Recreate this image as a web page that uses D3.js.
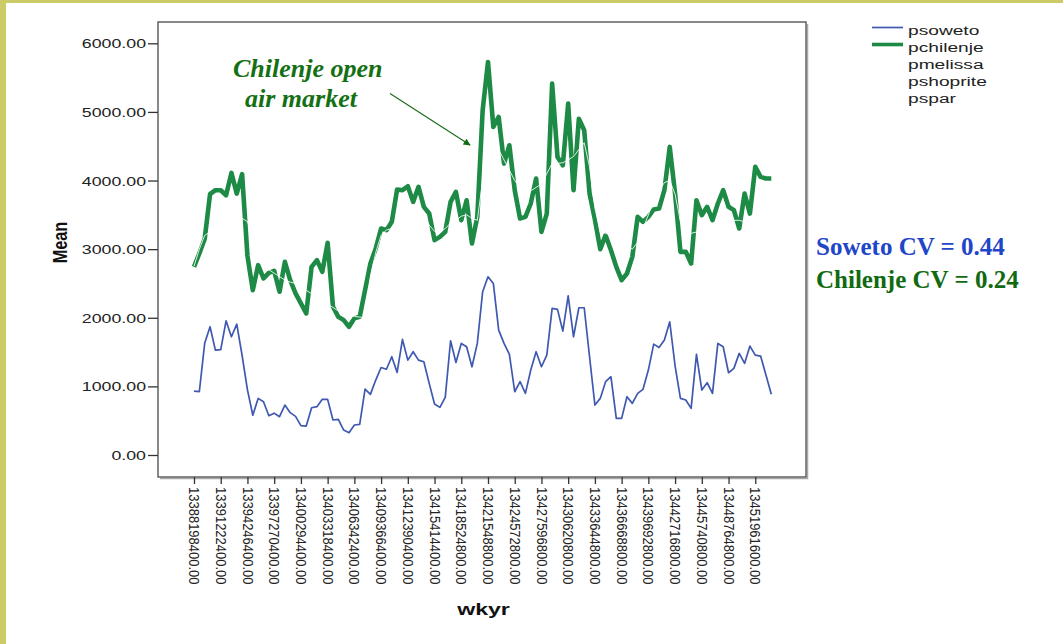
<!DOCTYPE html>
<html>
<head>
<meta charset="utf-8">
<script src="https://cdn.jsdelivr.net/npm/d3@7"></script>
<style>
  body { margin: 0; background: #fff; }
  svg { display: block; }
</style>
</head>
<body>
<div id="chart"></div>
<script>
// weekly means, one value per wkyr category
var psoweto = [930, 925, 1627, 1869, 1529, 1535, 1956, 1723, 1908, 1450,
  950, 580, 825, 777, 573, 610, 558, 728, 617, 563,
  427, 422, 689, 704, 811, 811, 510, 519, 364, 325,
  437, 447, 961, 884, 1092, 1275, 1250, 1432, 1204, 1684,
  1383, 1505, 1383, 1359, 1044, 743, 694, 840, 1665, 1349,
  1626, 1578, 1286, 1626, 2379, 2597, 2500, 1820, 1626, 1466,
  922, 1068, 898, 1238, 1505, 1286, 1456, 2136, 2122, 1806,
  2320, 1723, 2146, 2146, 1432, 728, 825, 1068, 1141, 534,
  534, 850, 752, 898, 957, 1238, 1616, 1568, 1675, 1942,
  1300, 825, 801, 679, 1466, 947, 1053, 898, 1626, 1578,
  1199, 1262, 1481, 1335, 1587, 1456, 1442, 1165, 884];

var pchilenje = [2742, 2937, 3150, 3801, 3859, 3859, 3786, 4111, 3810, 4092,
  2900, 2403, 2767, 2573, 2655, 2684, 2379, 2815, 2548, 2355,
  2209, 2063, 2742, 2840, 2670, 3092, 2160, 2014, 1966, 1869,
  1991, 2014, 2403, 2791, 3010, 3301, 3277, 3398, 3870, 3859,
  3917, 3689, 3908, 3617, 3519, 3131, 3179, 3252, 3689, 3835,
  3422, 3713, 3082, 3470, 5024, 5727, 4781, 4927, 4247, 4514,
  3859, 3447, 3470, 3665, 4029, 3252, 3519, 5412, 4344, 4223,
  5121, 3859, 4900, 4733, 3810, 3430, 3000, 3204, 2985, 2742,
  2548, 2645, 2888, 3470, 3398, 3470, 3578, 3592, 3859, 4490,
  3810, 2961, 2961, 2791, 3713, 3495, 3617, 3422, 3665, 3859,
  3617, 3568, 3301, 3810, 3519, 4199, 4053, 4029, 4029];

// drawn in white in the original, only seen where it crosses pchilenje
var pmelissa = [2750, 3000, 3200, 3250, 3230, 3250, 3300, 3350, 3400, 3450,
  3400, 3200, 3000, 2850, 2700, 2650, 2600, 2550, 2520, 2500,
  2450, 2400, 2350, 2300, 2250, 2200, 2150, 2100, 2050, 2030,
  2020, 2010, 2000, 2600, 2950, 3200, 3280, 3300, 3350, 3420,
  3500, 3580, 3550, 3500, 3350, 3260, 3250, 3300, 3380, 3420,
  3480, 3500, 3450, 3420, 4000, 4300, 4480, 4450, 4300, 4150,
  4000, 3900, 3850, 3850, 3900, 3950, 4100, 4250, 4250, 4260,
  4300, 4350, 4450, 4550, 4200, 3600, 3250, 3230, 3200, 3150,
  3100, 3050, 3000, 3100, 3300, 3500, 3700, 3850, 3970, 4000,
  3800, 3400, 3250, 3230, 3250, 3300, 3330, 3350, 3380, 3400,
  3400, 3420, 3420, 3400, 3380, 3400, 3450, 3500, 3500];

// every 5th wkyr category is labelled
var tickLabels = ["13388198400.00", "13391222400.00", "13394246400.00", "13397270400.00",
  "13400294400.00", "13403318400.00", "13406342400.00", "13409366400.00",
  "13412390400.00", "13415414400.00", "13418524800.00", "13421548800.00",
  "13424572800.00", "13427596800.00", "13430620800.00", "13433644800.00",
  "13436668800.00", "13439692800.00", "13442716800.00", "13445740800.00",
  "13448764800.00", "13451961600.00"];

var yTicks = [0, 1000, 2000, 3000, 4000, 5000, 6000];
var legendNames = ["psoweto", "pchilenje", "pmelissa", "pshoprite", "pspar"];

var svgWidth = 1063, svgHeight = 644;
var box = { left: 158, right: 806, top: 22, bottom: 477 };
var sx = 1.42; // the SPSS chart is stretched sideways

var svg = d3.select("#chart").append("svg")
  .attr("width", svgWidth)
  .attr("height", svgHeight)
  .style("font-family", "'Liberation Sans', Arial, sans-serif");

svg.append("rect").attr("width", svgWidth).attr("height", svgHeight).attr("fill", "#fff");
// slide border
svg.append("rect").attr("x", 0).attr("y", 0).attr("width", 6).attr("height", svgHeight).attr("fill", "#cbcb68");
svg.append("rect").attr("x", 0).attr("y", 0).attr("width", svgWidth).attr("height", 3).attr("fill", "#cbcb68");

var n = psoweto.length;
var x = d3.scaleLinear().domain([0, n - 1]).range([194, 771.3]);
var y = d3.scaleLinear().domain([0, 6000]).range([455, 43.3]);

// frame with a little shadow
svg.append("path")
  .attr("d", `M${box.right + 1.5},${box.top + 2} V${box.bottom + 1.5} H${box.left + 2}`)
  .attr("fill", "none").attr("stroke", "#a8a8a8").attr("stroke-width", 1.5);
svg.append("rect")
  .attr("x", box.left).attr("y", box.top)
  .attr("width", box.right - box.left).attr("height", box.bottom - box.top)
  .attr("fill", "none").attr("stroke", "#4a4a4a").attr("stroke-width", 1.3);

// Y axis
var yAxis = svg.append("g")
  .attr("transform", `translate(${box.left},0)`)
  .call(d3.axisLeft(y).tickValues(yTicks).tickFormat(d3.format(".2f")).tickSize(10));
yAxis.select(".domain").remove();
yAxis.selectAll(".tick line").attr("stroke", "#333").attr("stroke-width", 1.3);
yAxis.selectAll(".tick text")
  .attr("x", 0).attr("dy", "0.36em")
  .attr("transform", `translate(-12,0) scale(${sx},1)`)
  .style("font-size", "12.5px")
  .attr("fill", "#222");

// X axis
var tickIdx = tickLabels.map((d, i) => i * 5);
var xAxis = svg.append("g")
  .attr("transform", `translate(0,${box.bottom})`)
  .call(d3.axisBottom(x).tickValues(tickIdx).tickFormat((d, i) => tickLabels[i]).tickSize(7));
xAxis.select(".domain").remove();
xAxis.selectAll(".tick line").attr("stroke", "#333").attr("stroke-width", 1.3);
xAxis.selectAll(".tick text")
  .attr("x", 0).attr("y", 0).attr("dy", "0.36em")
  .attr("text-anchor", "start")
  .attr("transform", "translate(0,10) rotate(90) scale(1,1.15)")
  .style("font-size", "13px")
  .attr("fill", "#222");

// axis titles
svg.append("text")
  .attr("transform", `translate(67,242.5) rotate(-90) scale(1,1.25)`)
  .attr("text-anchor", "middle")
  .style("font-size", "16.3px").style("font-weight", "bold")
  .attr("fill", "#111")
  .text("Mean");

svg.append("text")
  .attr("transform", `translate(483.5,615) scale(${sx},1)`)
  .attr("text-anchor", "middle")
  .style("font-size", "16.3px").style("font-weight", "bold")
  .attr("fill", "#111")
  .text("wkyr");

// lines
var line = d3.line().x((d, i) => x(i)).y(d => y(d));

svg.append("path")
  .datum(psoweto)
  .attr("fill", "none")
  .attr("stroke", "#3f58b0")
  .attr("stroke-width", 1.7)
  .attr("stroke-linejoin", "round")
  .attr("d", line);

svg.append("path")
  .datum(pchilenje)
  .attr("fill", "none")
  .attr("stroke", "#1d8a45")
  .attr("stroke-width", 4.6)
  .attr("stroke-linejoin", "round")
  .attr("d", line);

svg.append("path")
  .datum(pmelissa)
  .attr("fill", "none")
  .attr("stroke", "#ffffff")
  .attr("stroke-width", 1)
  .attr("opacity", 0.85)
  .attr("d", line);

// legend
var legendColors = ["#3f58b0", "#1d8a45", null, null, null];
var legendWidths = [1.7, 3.6, 0, 0, 0];
var legend = svg.append("g");
legendNames.forEach(function(name, i) {
  var ly = 30 + i * 17;
  if (legendColors[i]) {
    legend.append("line")
      .attr("x1", 872).attr("x2", 903)
      .attr("y1", ly - 2.5).attr("y2", ly - 2.5)
      .attr("stroke", legendColors[i]).attr("stroke-width", legendWidths[i]);
  }
  legend.append("text")
    .attr("transform", `translate(908,${ly}) scale(${sx},1)`)
    .attr("dy", "0.36em")
    .style("font-size", "13.5px")
    .attr("fill", "#222")
    .text(name);
});

// annotation
var serif = "'Liberation Serif', 'Times New Roman', serif";
svg.append("text")
  .attr("x", 233).attr("y", 77.3)
  .style("font-family", serif).style("font-size", "26px")
  .style("font-weight", "bold").style("font-style", "italic")
  .attr("fill", "#137013")
  .text("Chilenje open");
svg.append("text")
  .attr("x", 245).attr("y", 107.3)
  .style("font-family", serif).style("font-size", "26px")
  .style("font-weight", "bold").style("font-style", "italic")
  .attr("fill", "#137013")
  .text("air market");

svg.append("defs").append("marker")
  .attr("id", "arrow")
  .attr("viewBox", "0 0 10 10")
  .attr("refX", 9).attr("refY", 5)
  .attr("markerWidth", 9).attr("markerHeight", 7)
  .attr("markerUnits", "userSpaceOnUse")
  .attr("orient", "auto")
  .append("path").attr("d", "M0,0 L10,5 L0,10 Z").attr("fill", "#156b15");

svg.append("line")
  .attr("x1", 390).attr("y1", 93.5)
  .attr("x2", 470).attr("y2", 145)
  .attr("stroke", "#156b15").attr("stroke-width", 1.1)
  .attr("marker-end", "url(#arrow)");

// CV notes
svg.append("text")
  .attr("x", 816).attr("y", 255)
  .style("font-family", serif).style("font-size", "25px").style("font-weight", "bold")
  .attr("fill", "#1f45c9")
  .text("Soweto CV = 0.44");
svg.append("text")
  .attr("x", 816).attr("y", 288.3)
  .style("font-family", serif).style("font-size", "25px").style("font-weight", "bold")
  .attr("fill", "#116a11")
  .text("Chilenje CV = 0.24");
</script>
</body>
</html>
